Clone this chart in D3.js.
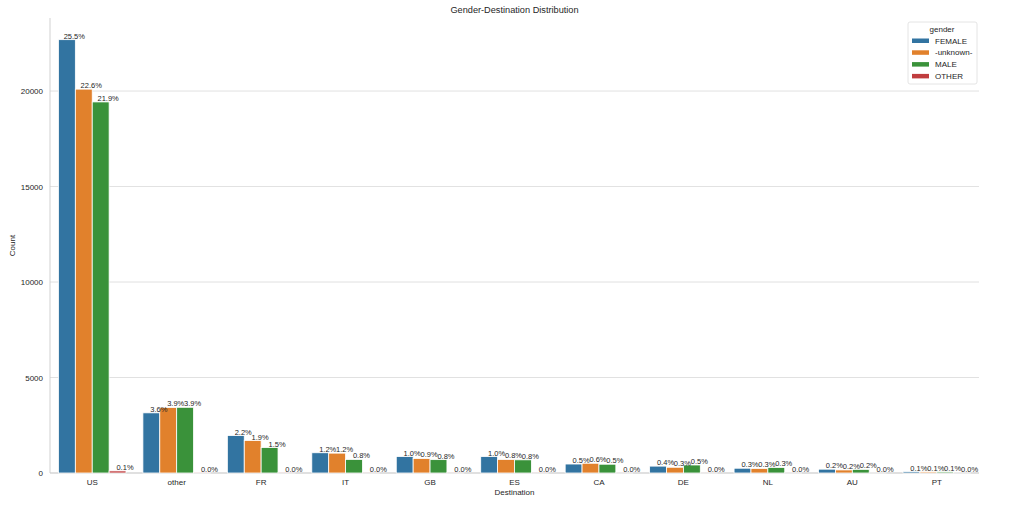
<!DOCTYPE html>
<html><head><meta charset="utf-8">
<script src="https://cdn.jsdelivr.net/npm/d3@7"></script>
<style>body{margin:0;background:#fff;} text{font-family:"Liberation Sans",Arial,sans-serif;fill:#262626;}</style>
</head><body>
<svg id="c" width="1013" height="515"></svg>
<script>
const destinations = ["US","other","FR","IT","GB","ES","CA","DE","NL","AU","PT"];
const genders = ["FEMALE","-unknown-","MALE","OTHER"];
const colors = ["#3274a1","#e1812c","#3a923a","#c03d3e"];
const femaleCounts  = [22690,3150,1960,1060,860,860,470,360,250,200,70];
const unknownCounts = [20100,3430,1700,1040,760,710,510,300,240,160,60];
const maleCounts    = [19430,3440,1330,710,700,690,460,420,290,190,60];
const otherCounts   = [110,20,10,6,5,5,3,3,2,1,1];
const femalePct  = ["25.5%","3.6%","2.2%","1.2%","1.0%","1.0%","0.5%","0.4%","0.3%","0.2%","0.1%"];
const unknownPct = ["22.6%","3.9%","1.9%","1.2%","0.9%","0.8%","0.6%","0.3%","0.3%","0.2%","0.1%"];
const malePct    = ["21.9%","3.9%","1.5%","0.8%","0.8%","0.8%","0.5%","0.5%","0.3%","0.2%","0.1%"];
const otherPct   = ["0.1%","0.0%","0.0%","0.0%","0.0%","0.0%","0.0%","0.0%","0.0%","0.0%","0.0%"];
const yTicks = [0,5000,10000,15000,20000];

const series = [femaleCounts, unknownCounts, maleCounts, otherCounts];
const pcts = [femalePct, unknownPct, malePct, otherPct];

const svg = d3.select("#c");
const L = 50, R = 979, T = 18, B = 473;
const maxV = d3.max(series.flat());
const x = d3.scaleBand().domain(destinations).range([L, R]).paddingInner(0.2).paddingOuter(0.1);
const xs = d3.scaleBand().domain(genders).range([0, x.bandwidth()]);
const y = d3.scaleLinear().domain([0, maxV * 1.05]).range([B, T]);

// gridlines
svg.append("g").selectAll("line").data(yTicks).join("line")
  .attr("x1", L).attr("x2", R).attr("y1", d => y(d)).attr("y2", d => y(d))
  .attr("stroke", "#d9d9d9").attr("stroke-width", 0.8);

// spines
svg.append("line").attr("x1", L).attr("x2", L).attr("y1", T).attr("y2", B).attr("stroke", "#cccccc").attr("stroke-width", 0.9);
svg.append("line").attr("x1", L).attr("x2", R).attr("y1", B).attr("y2", B).attr("stroke", "#cccccc").attr("stroke-width", 0.9);

// y axis
const yAxis = d3.axisLeft(y).tickValues(yTicks).tickSize(0).tickPadding(7).tickFormat(d3.format("d"));
const gy = svg.append("g").attr("transform", `translate(${L},0)`).call(yAxis);
gy.select(".domain").remove();
gy.selectAll("text").style("font-size", "8px").style("fill", "#262626");

// x axis
const xAxis = d3.axisBottom(x).tickSize(0).tickPadding(6);
const gx = svg.append("g").attr("transform", `translate(0,${B})`).call(xAxis);
gx.select(".domain").remove();
gx.selectAll("text").style("font-size", "8px").style("fill", "#262626");

// bars
genders.forEach((g, gi) => {
  const data = destinations.map((d, i) => ({d, v: series[gi][i], p: pcts[gi][i]}));
  svg.append("g").selectAll("rect").data(data).join("rect")
    .attr("x", d => x(d.d) + xs(g))
    .attr("width", xs.bandwidth())
    .attr("y", d => y(d.v))
    .attr("height", d => B - y(d.v))
    .attr("fill", colors[gi])
    .attr("stroke", "#fff").attr("stroke-width", 0.8);
});
genders.forEach((g, gi) => {
  const data = destinations.map((d, i) => ({d, v: series[gi][i], p: pcts[gi][i]}));
  svg.append("g").selectAll("text").data(data).join("text")
    .attr("x", d => x(d.d) + xs(g) + xs.bandwidth() - 1)
    .attr("y", d => y(d.v) - 1)
    .attr("text-anchor", "middle")
    .style("font-size", "7.5px")
    .text(d => d.p);
});

// title & axis labels
svg.append("text").attr("x", (L + R) / 2).attr("y", 13).attr("text-anchor", "middle").style("font-size", "9.2px").text("Gender-Destination Distribution");
svg.append("text").attr("x", (L + R) / 2).attr("y", 495).attr("text-anchor", "middle").style("font-size", "8px").text("Destination");
svg.append("text").attr("transform", `translate(15,${(T + B) / 2}) rotate(-90)`).attr("text-anchor", "middle").style("font-size", "8px").text("Count");

// legend
const lg = svg.append("g");
lg.append("rect").attr("x", 908).attr("y", 22).attr("width", 69).attr("height", 62).attr("rx", 2)
  .attr("fill", "#fff").attr("stroke", "#dddddd").attr("stroke-width", 0.8);
lg.append("text").attr("x", 942).attr("y", 32).attr("text-anchor", "middle").style("font-size", "8px").text("gender");
genders.forEach((g, gi) => {
  const yy = 40.5 + gi * 11.8;
  lg.append("rect").attr("x", 912).attr("y", yy - 2).attr("width", 17).attr("height", 4.5).attr("fill", colors[gi]);
  lg.append("text").attr("x", 935).attr("y", yy + 3).style("font-size", "8px").text(g);
});
</script>
</body></html>
